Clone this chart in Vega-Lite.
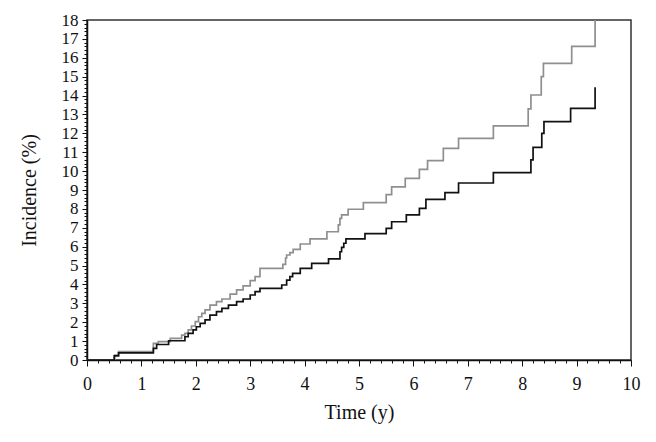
{
  "$schema": "https://vega.github.io/schema/vega-lite/v6.json",
  "autosize": "none",
  "width": 544,
  "height": 340,
  "padding": {"left": 87, "top": 20, "right": 25, "bottom": 82},
  "background": "white",
  "config": {
    "view": {"stroke": "#333333", "strokeWidth": 1.5},
    "axis": {
      "labelFont": "Liberation Serif",
      "titleFont": "Liberation Serif",
      "labelColor": "#111111",
      "titleColor": "#111111",
      "domainColor": "#111111",
      "domainWidth": 1.5,
      "tickColor": "#111111",
      "tickWidth": 1,
      "grid": false,
      "titleFontWeight": "normal"
    }
  },
  "data": {
    "values": [
      {"t": 0, "v": 0, "g": "gray"},
      {"t": 0.51, "v": 0.26, "g": "gray"},
      {"t": 0.58, "v": 0.44, "g": "gray"},
      {"t": 1.22, "v": 0.88, "g": "gray"},
      {"t": 1.31, "v": 0.97, "g": "gray"},
      {"t": 1.53, "v": 1.15, "g": "gray"},
      {"t": 1.74, "v": 1.32, "g": "gray"},
      {"t": 1.8, "v": 1.41, "g": "gray"},
      {"t": 1.86, "v": 1.59, "g": "gray"},
      {"t": 1.92, "v": 1.8, "g": "gray"},
      {"t": 1.99, "v": 2.03, "g": "gray"},
      {"t": 2.05, "v": 2.29, "g": "gray"},
      {"t": 2.11, "v": 2.47, "g": "gray"},
      {"t": 2.17, "v": 2.65, "g": "gray"},
      {"t": 2.26, "v": 2.91, "g": "gray"},
      {"t": 2.38, "v": 3.09, "g": "gray"},
      {"t": 2.48, "v": 3.23, "g": "gray"},
      {"t": 2.63, "v": 3.49, "g": "gray"},
      {"t": 2.75, "v": 3.71, "g": "gray"},
      {"t": 2.87, "v": 3.92, "g": "gray"},
      {"t": 3.0, "v": 4.2, "g": "gray"},
      {"t": 3.09, "v": 4.41, "g": "gray"},
      {"t": 3.18, "v": 4.85, "g": "gray"},
      {"t": 3.6, "v": 5.06, "g": "gray"},
      {"t": 3.65, "v": 5.4, "g": "gray"},
      {"t": 3.67, "v": 5.56, "g": "gray"},
      {"t": 3.73, "v": 5.68, "g": "gray"},
      {"t": 3.79, "v": 5.86, "g": "gray"},
      {"t": 3.92, "v": 6.14, "g": "gray"},
      {"t": 4.1, "v": 6.41, "g": "gray"},
      {"t": 4.41, "v": 6.79, "g": "gray"},
      {"t": 4.62, "v": 7.15, "g": "gray"},
      {"t": 4.65, "v": 7.5, "g": "gray"},
      {"t": 4.68, "v": 7.68, "g": "gray"},
      {"t": 4.8, "v": 7.98, "g": "gray"},
      {"t": 5.08, "v": 8.33, "g": "gray"},
      {"t": 5.5, "v": 8.75, "g": "gray"},
      {"t": 5.6, "v": 9.17, "g": "gray"},
      {"t": 5.85, "v": 9.62, "g": "gray"},
      {"t": 6.11, "v": 10.09, "g": "gray"},
      {"t": 6.26, "v": 10.55, "g": "gray"},
      {"t": 6.55, "v": 11.2, "g": "gray"},
      {"t": 6.83, "v": 11.73, "g": "gray"},
      {"t": 7.47, "v": 12.4, "g": "gray"},
      {"t": 8.11, "v": 13.3, "g": "gray"},
      {"t": 8.16, "v": 14.03, "g": "gray"},
      {"t": 8.35, "v": 15.0, "g": "gray"},
      {"t": 8.39, "v": 15.7, "g": "gray"},
      {"t": 8.91, "v": 16.6, "g": "gray"},
      {"t": 9.34, "v": 18.0, "g": "gray"},
      {"t": 0, "v": 0, "g": "black"},
      {"t": 0.5, "v": 0.22, "g": "black"},
      {"t": 0.58, "v": 0.38, "g": "black"},
      {"t": 1.22, "v": 0.62, "g": "black"},
      {"t": 1.28, "v": 0.82, "g": "black"},
      {"t": 1.5, "v": 1.02, "g": "black"},
      {"t": 1.8, "v": 1.23, "g": "black"},
      {"t": 1.86, "v": 1.41, "g": "black"},
      {"t": 1.95, "v": 1.59, "g": "black"},
      {"t": 2.01, "v": 1.76, "g": "black"},
      {"t": 2.08, "v": 1.94, "g": "black"},
      {"t": 2.17, "v": 2.12, "g": "black"},
      {"t": 2.26, "v": 2.38, "g": "black"},
      {"t": 2.38, "v": 2.56, "g": "black"},
      {"t": 2.48, "v": 2.73, "g": "black"},
      {"t": 2.6, "v": 2.91, "g": "black"},
      {"t": 2.75, "v": 3.09, "g": "black"},
      {"t": 2.87, "v": 3.23, "g": "black"},
      {"t": 3.0, "v": 3.44, "g": "black"},
      {"t": 3.09, "v": 3.62, "g": "black"},
      {"t": 3.18, "v": 3.79, "g": "black"},
      {"t": 3.58, "v": 3.97, "g": "black"},
      {"t": 3.67, "v": 4.23, "g": "black"},
      {"t": 3.73, "v": 4.41, "g": "black"},
      {"t": 3.78, "v": 4.59, "g": "black"},
      {"t": 3.92, "v": 4.85, "g": "black"},
      {"t": 4.13, "v": 5.12, "g": "black"},
      {"t": 4.44, "v": 5.35, "g": "black"},
      {"t": 4.65, "v": 5.73, "g": "black"},
      {"t": 4.68, "v": 5.96, "g": "black"},
      {"t": 4.72, "v": 6.18, "g": "black"},
      {"t": 4.76, "v": 6.41, "g": "black"},
      {"t": 5.11, "v": 6.69, "g": "black"},
      {"t": 5.5, "v": 6.97, "g": "black"},
      {"t": 5.6, "v": 7.32, "g": "black"},
      {"t": 5.87, "v": 7.68, "g": "black"},
      {"t": 6.11, "v": 8.03, "g": "black"},
      {"t": 6.23, "v": 8.5, "g": "black"},
      {"t": 6.58, "v": 8.86, "g": "black"},
      {"t": 6.83, "v": 9.37, "g": "black"},
      {"t": 7.47, "v": 9.92, "g": "black"},
      {"t": 8.16, "v": 10.6, "g": "black"},
      {"t": 8.2, "v": 11.26, "g": "black"},
      {"t": 8.36, "v": 12.0, "g": "black"},
      {"t": 8.4, "v": 12.62, "g": "black"},
      {"t": 8.89, "v": 13.32, "g": "black"},
      {"t": 9.34, "v": 14.44, "g": "black"}
    ]
  },
  "mark": {"type": "line", "interpolate": "step-after", "strokeWidth": 1.7, "clip": true},
  "encoding": {
    "x": {
      "field": "t",
      "type": "quantitative",
      "scale": {"domain": [0, 10], "nice": false},
      "axis": {
        "title": "Time (y)",
        "titleFontSize": 20,
        "titlePadding": 9,
        "labelFontSize": 18,
        "labelPadding": 9,
        "labelFlush": false,
        "labelOverlap": false,
        "values": [0,0.2,0.4,0.6,0.8,1,1.2,1.4,1.6,1.8,2,2.2,2.4,2.6,2.8,3,3.2,3.4,3.6,3.8,4,4.2,4.4,4.6,4.8,5,5.2,5.4,5.6,5.8,6,6.2,6.4,6.6,6.8,7,7.2,7.4,7.6,7.8,8,8.2,8.4,8.6,8.8,9,9.2,9.4,9.6,9.8,10],
        "labelExpr": "abs(datum.value - round(datum.value)) < 0.001 ? format(round(datum.value), 'd') : ''",
        "tickSize": {"condition": {"test": "abs(datum.value - round(datum.value)) < 0.001", "value": 6}, "value": 3}
      }
    },
    "y": {
      "field": "v",
      "type": "quantitative",
      "scale": {"domain": [0, 18], "nice": false},
      "axis": {
        "title": "Incidence (%)",
        "titleFontSize": 20,
        "titlePadding": 22,
        "labelFontSize": 17,
        "labelPadding": 4,
        "labelFlush": false,
        "labelOverlap": false,
        "values": [0,0.2,0.4,0.6,0.8,1,1.2,1.4,1.6,1.8,2,2.2,2.4,2.6,2.8,3,3.2,3.4,3.6,3.8,4,4.2,4.4,4.6,4.8,5,5.2,5.4,5.6,5.8,6,6.2,6.4,6.6,6.8,7,7.2,7.4,7.6,7.8,8,8.2,8.4,8.6,8.8,9,9.2,9.4,9.6,9.8,10,10.2,10.4,10.6,10.8,11,11.2,11.4,11.6,11.8,12,12.2,12.4,12.6,12.8,13,13.2,13.4,13.6,13.8,14,14.2,14.4,14.6,14.8,15,15.2,15.4,15.6,15.8,16,16.2,16.4,16.6,16.8,17,17.2,17.4,17.6,17.8,18],
        "labelExpr": "abs(datum.value - round(datum.value)) < 0.001 ? format(round(datum.value), 'd') : ''",
        "tickSize": {"condition": {"test": "abs(datum.value - round(datum.value)) < 0.001", "value": 5}, "value": 3}
      }
    },
    "color": {
      "field": "g",
      "type": "nominal",
      "scale": {"domain": ["gray", "black"], "range": ["#8f8f8f", "#111111"]},
      "legend": null
    }
  }
}
